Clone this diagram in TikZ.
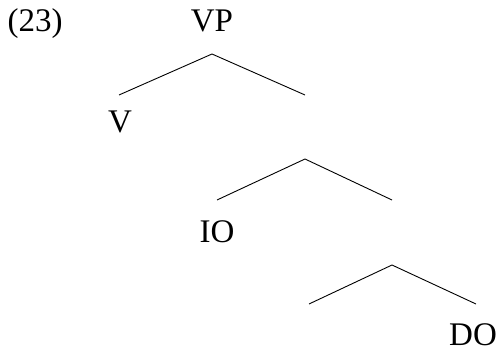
\documentclass[tikz,border=0pt]{standalone}
\usepackage{fontspec}
\setmainfont{Liberation Serif}
\begin{document}
\begin{tikzpicture}[x=1pt,y=1pt,
  lbl/.style={inner sep=0pt,anchor=base,font=\fontsize{33}{36}\selectfont},
  branch/.style={line width=0.9pt,black}]
\useasboundingbox (0,0) rectangle (500,351);
\node[lbl] (ex) at (35,319) {(23)};
\node[lbl] (vp) at (212,319) {VP};
\node[lbl] (v) at (120,218) {V};
\node[lbl] (io) at (217,109) {IO};
\node[lbl] (do) at (473,6) {DO};
\coordinate (a1) at (212,297);
\coordinate (l1) at (119,256);
\coordinate (r1) at (305,256);
\coordinate (a2) at (305,192);
\coordinate (l2) at (217,151);
\coordinate (r2) at (392,151);
\coordinate (a3) at (392,86);
\coordinate (l3) at (309,47);
\coordinate (r3) at (476,47);
\draw[branch] (l1) -- (a1) -- (r1);
\draw[branch] (l2) -- (a2) -- (r2);
\draw[branch] (l3) -- (a3) -- (r3);
\end{tikzpicture}
\end{document}
